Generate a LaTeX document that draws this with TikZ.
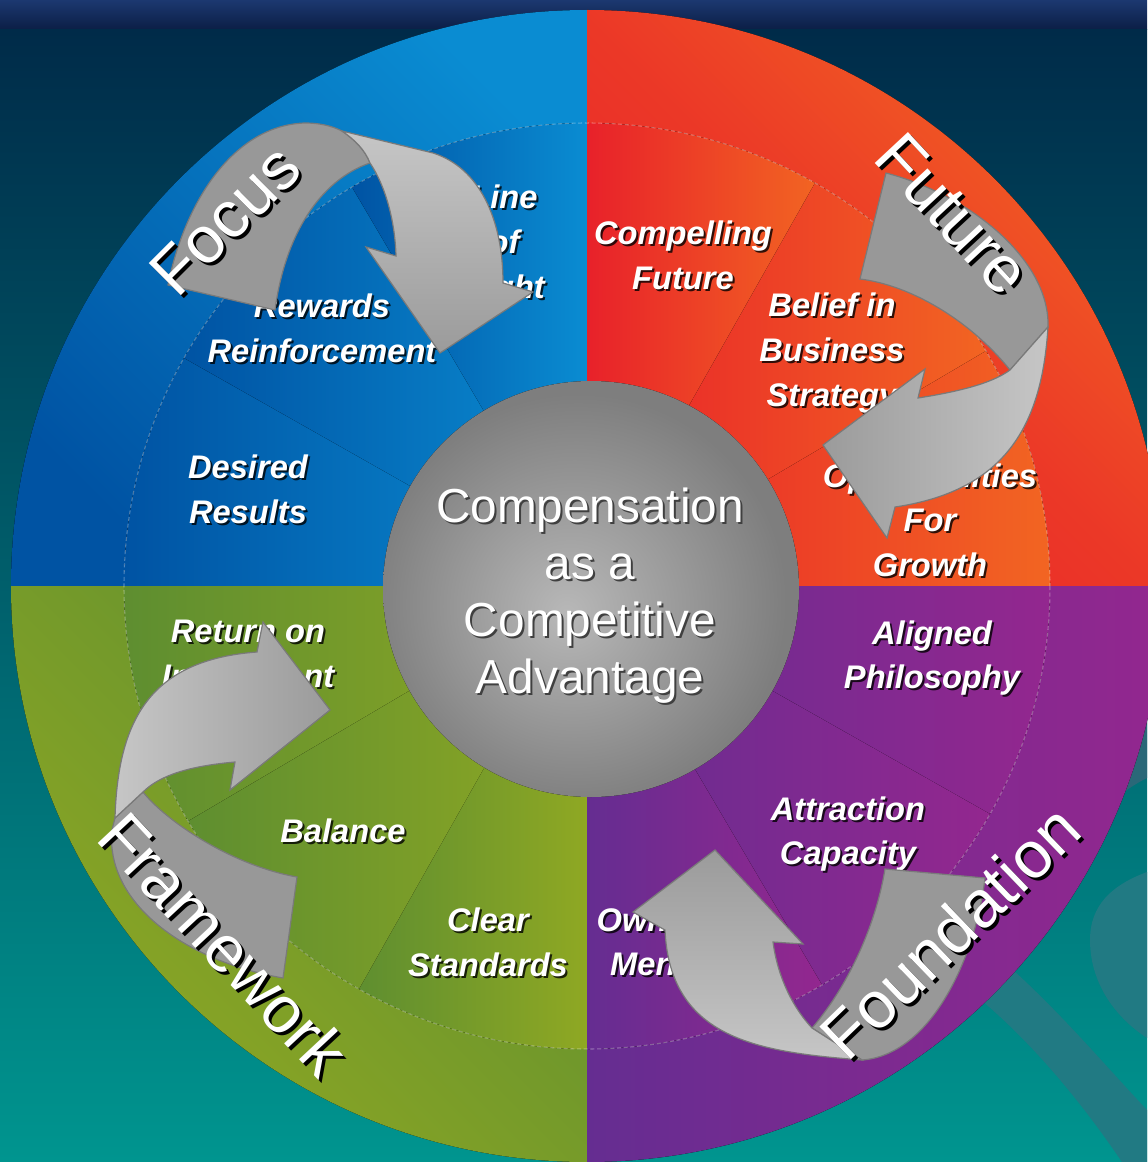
\documentclass[tikz,border=0pt]{standalone}
\usepackage{fontspec}
\usepackage{tikz}
\newfontfamily\lsans{Liberation Sans}

\definecolor{hdrtop}{HTML}{1C3870}
\definecolor{hdrbot}{HTML}{0B1E45}
\definecolor{bgtop}{HTML}{002B49}
\definecolor{bgbot}{HTML}{00958F}
\definecolor{swoosh}{HTML}{217A83}
\definecolor{swooshdk}{HTML}{2A6878}
\definecolor{bluedk}{HTML}{0053A3}
\definecolor{bluelt}{HTML}{0A8CD2}
\definecolor{reddk}{HTML}{E8212A}
\definecolor{redlt}{HTML}{F26522}
\definecolor{grndk}{HTML}{5E8E30}
\definecolor{grnlt}{HTML}{8FA823}
\definecolor{purdk}{HTML}{652D91}
\definecolor{purlt}{HTML}{93278F}
\definecolor{hubhi}{HTML}{B8B8B8}
\definecolor{hublo}{HTML}{7E7E7E}
\definecolor{arwlt}{HTML}{C6C6C6}
\definecolor{arwmd}{HTML}{9B9B9B}
\definecolor{arwbk}{HTML}{989898}
\definecolor{arwline}{HTML}{7A7A7A}

\pgfdeclareradialshading{hubshade}{\pgfpoint{-3bp}{-3bp}}{color(0bp)=(hubhi); color(25bp)=(hublo); color(50bp)=(hublo)}

\begin{document}
\begin{tikzpicture}[x=0.75pt,y=0.75pt,yscale=-1,xscale=1,
    wlbl/.style={text=white,align=center,inner sep=0,font=\lsans\bfseries\itshape\fontsize{24.5}{33.5}\selectfont},
    wshd/.style={wlbl,text=black,opacity=0.8},
    bigword/.style={text=white,inner sep=0,font=\lsans\fontsize{49.5}{55}\selectfont},
    bigshd/.style={bigword,text=black},
    hubtxt/.style={text=white,align=center,inner sep=0,font=\lsans\fontsize{35.8}{42.8}\selectfont},
    hubshd/.style={hubtxt,text=black!75},
    arwback/.style={fill=arwbk,draw=arwline,line width=0.9},
    arwfront/.style={draw=arwline,line width=0.9}]
\useasboundingbox (0,0) rectangle (1147,1162);
%Shape: Background
\fill[top color=hdrtop,bottom color=hdrbot] (0,0) rectangle (1147,30);
\fill[top color=bgtop,bottom color=bgbot] (0,30) rectangle (1147,1162);
%Shape: Swoosh sliver
\fill[swooshdk] (1090,640) -- (1147,640) -- (1147,778) .. controls (1135,784) and (1122,792) .. (1110,805) -- cycle;
%Shape: Swoosh blob
\fill[swoosh] (1147,872) .. controls (1112,885) and (1090,905) .. (1090,940) .. controls (1090,980) and (1112,1015) .. (1147,1038) -- cycle;
%Shape: Swoosh band
\fill[swoosh] (990,950) .. controls (1050,1000) and (1100,1060) .. (1147,1110) -- (1147,1162) -- (1122,1162) .. controls (1080,1100) and (1030,1040) .. (975,995) -- cycle;

\begin{scope}[shift={(587,586)}]
%Shape: Outer band
\fill[top color=bluelt,bottom color=bluedk,shading angle=-45] (0,0) -- (180:576) arc[start angle=180,end angle=270,radius=576] -- cycle;
\fill[top color=redlt,bottom color=reddk,middle color=reddk!65!redlt,shading angle=-45] (0,0) -- (270:576) arc[start angle=270,end angle=360,radius=576] -- cycle;
\fill[top color=grndk,bottom color=grnlt,shading angle=-45] (0,0) -- (90:576) arc[start angle=90,end angle=180,radius=576] -- cycle;
\fill[left color=purdk,right color=purlt] (0,0) -- (0:576) arc[start angle=0,end angle=90,radius=576] -- cycle;
%Shape: Inner wedges
\fill[left color=bluedk,right color=bluelt] (0,0) -- (180:463) arc[start angle=180,end angle=210,radius=463] -- cycle;
\fill[left color=bluedk,right color=bluelt] (0,0) -- (209.5:463) arc[start angle=209.5,end angle=240,radius=463] -- cycle;
\fill[left color=bluedk,right color=bluelt] (0,0) -- (239.5:463) arc[start angle=239.5,end angle=270,radius=463] -- cycle;
\fill[left color=reddk,right color=redlt] (0,0) -- (270:463) arc[start angle=270,end angle=300,radius=463] -- cycle;
\fill[left color=reddk,right color=redlt] (0,0) -- (299.5:463) arc[start angle=299.5,end angle=330,radius=463] -- cycle;
\fill[left color=reddk,right color=redlt] (0,0) -- (329.5:463) arc[start angle=329.5,end angle=360,radius=463] -- cycle;
\fill[left color=grndk,right color=grnlt] (0,0) -- (90:463) arc[start angle=90,end angle=120,radius=463] -- cycle;
\fill[left color=grndk,right color=grnlt] (0,0) -- (119.5:463) arc[start angle=119.5,end angle=150,radius=463] -- cycle;
\fill[left color=grndk,right color=grnlt] (0,0) -- (149.5:463) arc[start angle=149.5,end angle=180,radius=463] -- cycle;
\fill[left color=purdk,right color=purlt] (0,0) -- (0:463) arc[start angle=0,end angle=30,radius=463] -- cycle;
\fill[left color=purdk,right color=purlt] (0,0) -- (29.5:463) arc[start angle=29.5,end angle=60,radius=463] -- cycle;
\fill[left color=purdk,right color=purlt] (0,0) -- (59.5:463) arc[start angle=59.5,end angle=90,radius=463] -- cycle;
%Shape: Ring seam
\draw[white,opacity=0.3,dash pattern=on 3pt off 2pt,line width=0.8] (0,0) circle[radius=463];
\end{scope}

%Shape: Hub
\fill[shading=hubshade] (591,589) circle[radius=208];

% Text Node
\node (sight-s) [wshd] at (506,247) {Line\\of\\Sight};
\node (sight) [wlbl] at (504,245) {Line\\of\\Sight};
\node (rewards-s) [wshd] at (324,330) {Rewards\\Reinforcement};
\node (rewards) [wlbl] at (322,328) {Rewards\\Reinforcement};
\node (results-s) [wshd] at (250,491) {Desired\\Results};
\node (results) [wlbl] at (248,489) {Desired\\Results};
\node (compelling-s) [wshd] at (685,257) {Compelling\\Future};
\node (compelling) [wlbl] at (683,255) {Compelling\\Future};
\node (belief-s) [wshd] at (834,355) {Belief in\\Business\\Strategy};
\node (belief) [wlbl] at (832,353) {Belief in\\Business\\Strategy};
\node (growth-s) [wshd] at (932,522) {Opportunities\\For\\Growth};
\node (growth) [wlbl] at (930,520) {Opportunities\\For\\Growth};
\node (aligned-s) [wshd] at (934,660) {Aligned\\Philosophy};
\node (aligned) [wlbl] at (932,658) {Aligned\\Philosophy};
\node (attraction-s) [wshd] at (850,836) {Attraction\\Capacity};
\node (attraction) [wlbl] at (848,834) {Attraction\\Capacity};
\node (ownership-s) [wshd] at (683,947) {Ownership\\Mentality};
\node (ownership) [wlbl] at (681,945) {Ownership\\Mentality};
\node (roi-s) [wshd] at (250,656) {Return on\\Investment};
\node (roi) [wlbl] at (248,654) {Return on\\Investment};
\node (balance-s) [wshd] at (345,833) {Balance};
\node (balance) [wlbl] at (343,831) {Balance};
\node (standards-s) [wshd] at (490,944) {Clear\\Standards};
\node (standards) [wlbl] at (488,942) {Clear\\Standards};

% Text Node
\node (hub-s) [hubshd] at (592,598) {Compensation\\as a\\Competitive\\Advantage};
\node (hub) [hubtxt] at (590,596) {Compensation\\as a\\Competitive\\Advantage};

%Shape: Arrow, top left
\filldraw[arwback] (168,285) .. controls (185,200) and (235,125) .. (305,123) .. controls (320,123) and (332,126) .. (342,131) .. controls (355,140) and (365,150) .. (370,163) .. controls (320,180) and (285,235) .. (275,310) -- cycle;
\filldraw[arwfront,top color=arwlt,bottom color=arwmd] (342,131) -- (433,153) .. controls (480,168) and (503,220) .. (503,283) -- (533,292) -- (440,353) -- (366,247) -- (396,256) .. controls (395,220) and (385,185) .. (370,163) .. controls (365,150) and (355,140) .. (342,131) -- cycle;
%Shape: Arrow, top right
\filldraw[arwback] (886,173) -- (860,279) .. controls (910,285) and (970,320) .. (1010,370) -- (1048,327) .. controls (1050,260) and (970,195) .. (886,173) -- cycle;
\filldraw[arwfront,left color=arwmd,right color=arwlt] (1048,327) .. controls (1042,420) and (1010,490) .. (895,507) -- (887,538) -- (823,445) -- (925,369) -- (918,398) .. controls (950,393) and (990,385) .. (1010,370) -- cycle;
%Shape: Arrow, bottom left
\filldraw[arwback] (297,877) -- (283,978) .. controls (180,960) and (105,900) .. (112,830) -- (115,818) -- (143,792) .. controls (165,820) and (230,865) .. (297,877) -- cycle;
\filldraw[arwfront,left color=arwlt,right color=arwmd] (115,818) .. controls (118,720) and (150,660) .. (257,652) -- (263,622) -- (330,710) -- (230,790) -- (235,762) .. controls (190,766) and (160,775) .. (143,792) -- cycle;
%Shape: Arrow, bottom right
\filldraw[arwback] (885,869) -- (985,878) .. controls (975,960) and (930,1055) .. (862,1060) -- (812,1028) .. controls (845,990) and (875,930) .. (885,869) -- cycle;
\filldraw[arwfront,top color=arwmd,bottom color=arwlt] (862,1060) .. controls (760,1052) and (670,1040) .. (665,930) -- (633,912) -- (715,850) -- (803,944) -- (773,942) .. controls (778,980) and (795,1010) .. (812,1028) -- cycle;

% Text Node
\node (focus-s) [bigshd,rotate=45] at (228,223) {Focus};
\node (focus) [bigword,rotate=45] at (225,220) {Focus};
\node (future-s) [bigshd,rotate=-47] at (956,217) {Future};
\node (future) [bigword,rotate=-47] at (953,214) {Future};
\node (foundation-s) [bigshd,rotate=44] at (953,935) {Foundation};
\node (foundation) [bigword,rotate=44] at (950,932) {Foundation};
\node (framework-s) [bigshd,rotate=-47] at (227,947) {Framework};
\node (framework) [bigword,rotate=-47] at (224,944) {Framework};
\end{tikzpicture}
\end{document}
